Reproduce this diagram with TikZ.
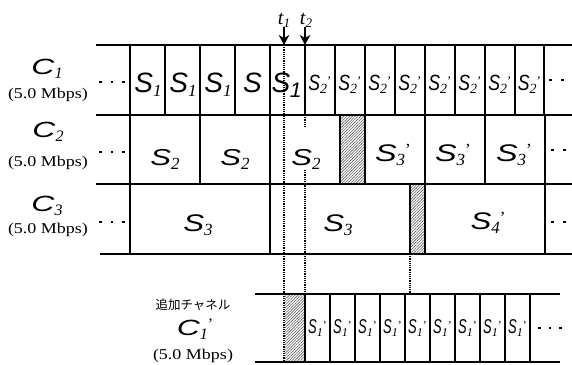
\documentclass[tikz,border=0pt]{standalone}
\usepackage{graphicx}
\usepackage{fontspec}
\setmainfont{Liberation Serif}
\newfontfamily\hv{Liberation Sans}
\newfontfamily\jp{Noto Sans CJK JP}
\usetikzlibrary{patterns.meta,arrows.meta}

% glyph helpers for the slot and channel labels
\newcommand\Sglyph[2]{\scalebox{#1}[1]{\fontsize{#2}{#2}\selectfont\hv\itshape S}}
\newcommand\Cglyph[2]{\scalebox{#1}[1]{\fontsize{#2}{#2}\selectfont\hv\itshape C}}
\newcommand\subs[3]{\raisebox{-#3}{\fontsize{#1}{#1}\selectfont\itshape #2}}
\newcommand\prm[2]{\raisebox{#2}{\fontsize{#1}{#1}\selectfont ’}}
\newcommand\rate{\scalebox{1.2}[1]{\fontsize{15}{15}\selectfont (5.0 Mbps)}}
\newcommand\tdots[1]{\rule{2.8pt}{2.8pt}\hspace{#1}\rule{2.8pt}{2.8pt}\hspace{#1}\rule{2.8pt}{2.8pt}}

\begin{document}
\begin{tikzpicture}[x=1pt,y=-1pt,
  hline/.style={line width=1.6pt},
  vline/.style={line width=1.1pt},
  dline/.style={line width=1.2pt,densely dotted},
  hatch/.style={pattern={Lines[angle=45,distance=2pt,line width=0.6pt]},pattern color=gray!75!black},
  tarrow/.style={line width=1.5pt,-{Stealth[width=10.5pt,length=10pt,inset=3pt]}},
  lab/.style={inner sep=0pt,anchor=base},
  ctr/.style={inner sep=0pt}]
\useasboundingbox (0,0) rectangle (572,364);

% idle (switching) intervals
\fill[hatch] (340,115) rectangle (365,184);
\fill[hatch] (410,184) rectangle (425,254);
\fill[hatch] (285,294) rectangle (305,362);

% channel rows
\draw[hline] (96,45) -- (572,45);
\draw[hline] (96,115) -- (572,115);
\draw[hline] (96,184) -- (572,184);
\draw[hline] (100,254) -- (572,254);
\draw[hline] (255,294) -- (560,294);
\draw[hline] (255,362) -- (560,362);

% slot boundaries
\foreach \x in {130,165,200,235,270,305,335,365,395,425,455,485,515,544}
  \draw[vline] (\x,45) -- (\x,115);
\foreach \x in {130,200,270,340,365,425,485,545}
  \draw[vline] (\x,115) -- (\x,184);
\foreach \x in {130,270,410,425,545}
  \draw[vline] (\x,184) -- (\x,254);
\foreach \x in {305,330,355,380,405,430,455,480,505,530}
  \draw[vline] (\x,294) -- (\x,362);

% time markers
\node[lab] (t1) at (284,24) {\fontsize{20}{20}\selectfont\itshape t\subs{13}{1}{3pt}};
\node[lab] (t2) at (306,24) {\fontsize{20}{20}\selectfont\itshape t\subs{13}{2}{3pt}};
\coordinate (t1top) at (284,27);
\coordinate (t2top) at (305,27);
\coordinate (t1tip) at (284,45);
\coordinate (t2tip) at (305,45);
\coordinate (t1end) at (284,362);
\coordinate (t2a) at (305,115);
\coordinate (t2b) at (305,128);
\coordinate (t2c) at (305,170);
\coordinate (t2end) at (305,294);
\coordinate (g1) at (410,254);
\coordinate (g2) at (410,294);
\draw[tarrow] (t1top) -- (t1tip);
\draw[tarrow] (t2top) -- (t2tip);
\draw[dline] (t1tip) -- (t1end);
\draw[dline] (t2a) -- (t2b);
\draw[dline] (t2c) -- (t2end);
\draw[dline] (g1) -- (g2);

% channel labels
\node[lab] (c1) at (47,74) {\Cglyph{1.45}{22}\subs{16}{1}{4pt}};
\node[ctr] (r1) at (48,95) {\rate};
\node[lab] (c2) at (48,137) {\Cglyph{1.45}{22}\subs{16}{2}{4pt}};
\node[ctr] (r2) at (48,163) {\rate};
\node[lab] (c3) at (47,211) {\Cglyph{1.45}{22}\subs{16}{3}{4pt}};
\node[ctr] (r3) at (48,230) {\rate};
\node[ctr] (jp) at (193,305) {\jp\fontsize{12.5}{12.5}\selectfont 追加チャネル};
\node[lab] (c4) at (195,335) {\Cglyph{1.45}{22}\subs{16}{1}{4pt}\prm{16}{6pt}};
\node[ctr] (r4) at (193,356) {\rate};

% continuation marks
\node[ctr] (l1) at (112,82) {\tdots{9pt}};
\node[ctr] (l2) at (112,152) {\tdots{9pt}};
\node[ctr] (l3) at (112,222) {\tdots{9pt}};
\node[ctr,anchor=west] (e1) at (549,80) {\tdots{9pt}};
\node[ctr,anchor=west] (e2) at (551,150) {\tdots{9pt}};
\node[ctr,anchor=west] (e3) at (551,222) {\tdots{9pt}};
\node[ctr,anchor=west] (e4) at (538,328) {\tdots{7.5pt}};

% slots of C1
\foreach \x [count=\i] in {148,183,218}
  \node[lab] (a\i) at (\x,92) {\Sglyph{1}{28}\subs{17}{1}{4pt}};
\node[lab] (a4) at (252.5,92) {\Sglyph{1}{28}};
\node[lab] (a5) at (286.5,92) {\Sglyph{1}{28}\kern-0.5pt\raisebox{-5pt}{\fontsize{21}{21}\selectfont\hv\itshape 1}};
\foreach \x [count=\i] in {320,350,380,410,440,470,500,529.5}
  \node[lab] (b\i) at (\x,90) {\Sglyph{0.8}{22}\subs{14}{2}{3pt}\prm{13}{5pt}};

% slots of C2
\node[lab] (m1) at (165,165) {\Sglyph{1.35}{23}\subs{17}{2}{4pt}};
\node[lab] (m2) at (235,165) {\Sglyph{1.35}{23}\subs{17}{2}{4pt}};
\node[lab] (m3) at (306,165) {\Sglyph{1.35}{23}\subs{17}{2}{4pt}};
\foreach \x [count=\i] in {393,453,514}
  \node[lab] (n\i) at (\x,161) {\Sglyph{1.35}{24}\subs{17}{3}{4pt}\prm{17}{6pt}};

% slots of C3
\node[lab] (p1) at (198,231) {\Sglyph{1.3}{24}\subs{17}{3}{4pt}};
\node[lab] (p2) at (338,231) {\Sglyph{1.3}{24}\subs{17}{3}{4pt}};
\node[lab] (p3) at (488,229) {\Sglyph{1.3}{24}\subs{17}{4}{4pt}\prm{17}{6pt}};

% slots of the added channel C1'
\foreach \x [count=\i] in {317.5,342.5,367.5,392.5,417.5,442.5,467.5,492.5,517.5}
  \node[lab] (q\i) at (\x,333) {\Sglyph{0.65}{20}\subs{12}{1}{3pt}\prm{12}{4pt}};
\end{tikzpicture}
\end{document}
